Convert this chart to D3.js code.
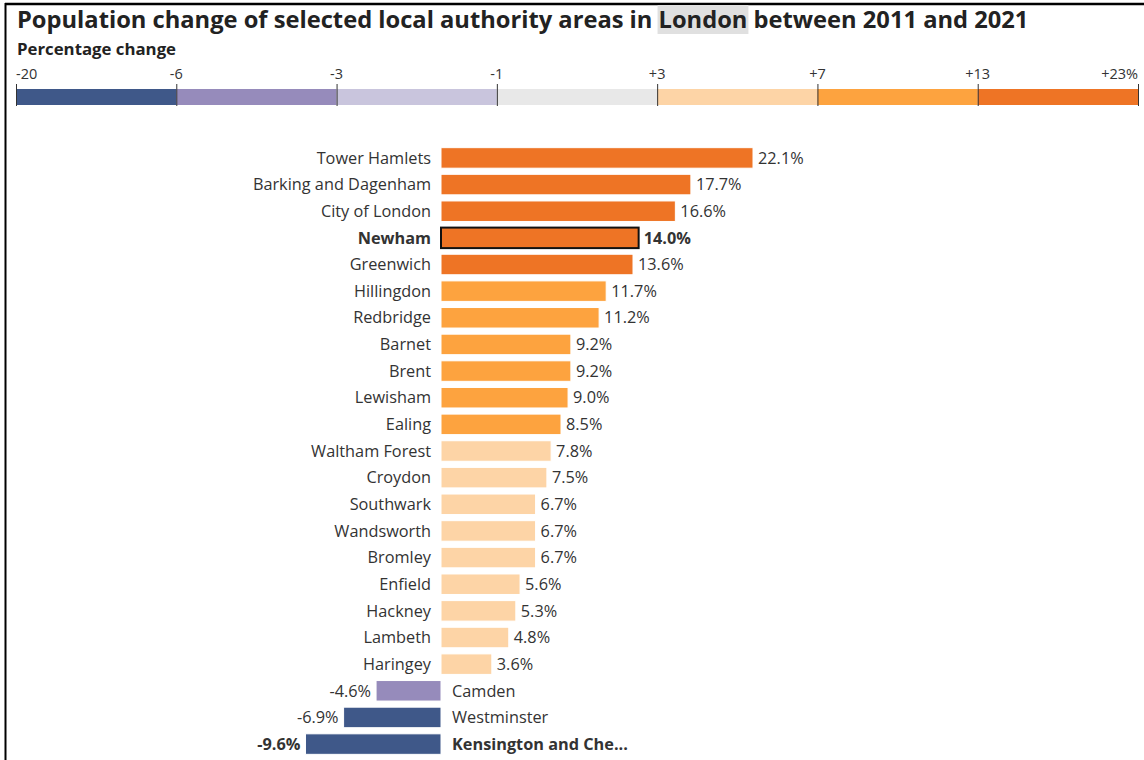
<!DOCTYPE html>
<html><head><meta charset="utf-8">
<script src="https://cdn.jsdelivr.net/npm/d3@7"></script>
<style>body{margin:0;background:#fff;}svg{display:block;font-family:"Open Sans",sans-serif;}</style>
</head><body><svg id="c" width="1144" height="760"></svg>
<script>
const areas = ["Tower Hamlets","Barking and Dagenham","City of London","Newham","Greenwich","Hillingdon","Redbridge","Barnet","Brent","Lewisham","Ealing","Waltham Forest","Croydon","Southwark","Wandsworth","Bromley","Enfield","Hackney","Lambeth","Haringey","Camden","Westminster","Kensington and Che..."];
const values = [22.1,17.7,16.6,14.0,13.6,11.7,11.2,9.2,9.2,9.0,8.5,7.8,7.5,6.7,6.7,6.7,5.6,5.3,4.8,3.6,-4.6,-6.9,-9.6];
const highlighted = ["Newham","Kensington and Che..."];
const breaks = [-20,-6,-3,-1,3,7,13,23];
const breakLabels = ["-20","-6","-3","-1","+3","+7","+13","+23%"];
const colorBreaks = [-6,-3,-1,3,8,13];
const colors = ["#3f5889","#968bbb","#c9c5dd","#e8e8e8","#fdd4a6","#fda33f","#ee7425"];

const svg = d3.select("#c");
// frame
svg.append("line").attr("x1",5).attr("x2",1144).attr("y1",4).attr("y2",4).attr("stroke","#000").attr("stroke-width",2.5);
svg.append("line").attr("x1",5.5).attr("x2",5.5).attr("y1",3).attr("y2",760).attr("stroke","#000").attr("stroke-width",2);

// title
const title = svg.append("text").attr("x",17).attr("y",28).attr("font-size",23.7).attr("font-weight",700).attr("fill","#222");
const tText = "Population change of selected local authority areas in London between 2011 and 2021";
title.text(tText);
const idx = tText.indexOf("London");
const node = title.node();
const sx = node.getStartPositionOfChar(idx).x;
const ex = node.getEndPositionOfChar(idx+5).x;
svg.insert("rect","text").attr("x",sx-1).attr("y",5).attr("width",ex-sx+2).attr("height",29).attr("fill","#e0e0e0");

svg.append("text").attr("x",17).attr("y",55).attr("font-size",16.8).attr("font-weight",700).attr("fill","#222").text("Percentage change");

// legend
const lx = d3.scalePoint().domain(d3.range(breaks.length)).range([16,1138]);
const lg = svg.append("g");
lg.selectAll("rect").data(colors).join("rect")
  .attr("x",(d,i)=>lx(i)).attr("width",(d,i)=>lx(i+1)-lx(i)).attr("y",89).attr("height",16).attr("fill",d=>d);
lg.selectAll("line").data(breaks).join("line")
  .attr("x1",(d,i)=>lx(i)+0.5).attr("x2",(d,i)=>lx(i)+0.5).attr("y1",84).attr("y2",106).attr("stroke","#333").attr("stroke-width",1);
lg.selectAll("text").data(breakLabels).join("text")
  .attr("x",(d,i)=>lx(i)).attr("y",79).attr("font-size",14.5).attr("fill","#333")
  .attr("text-anchor",(d,i)=>i===0?"start":i===breaks.length-1?"end":"middle").text(d=>d);

// bars
const x = d3.scaleLinear().domain([0,22.1]).range([441,753]);
const y = d3.scaleBand().domain(areas).range([145,757]).paddingInner(0.23).paddingOuter(0.1);
const color = d3.scaleThreshold().domain(colorBreaks).range(colors);
const g = svg.append("g");
const rows = g.selectAll("g").data(areas.map((a,i)=>({a,v:values[i],hl:highlighted.includes(a)}))).join("g")
  .attr("transform",d=>`translate(0,${y(d.a)})`);
rows.append("rect").attr("x",d=>x(Math.min(0,d.v))).attr("width",d=>Math.abs(x(d.v)-x(0))).attr("height",y.bandwidth())
  .attr("fill",d=>color(d.v)).attr("stroke",d=>d.a==="Newham"?"#111":"#fff").attr("stroke-width",d=>d.a==="Newham"?2:1);
rows.append("text").attr("x",d=>d.v>=0?x(0)-10:x(0)+11).attr("y",y.bandwidth()/2).attr("dy","0.35em")
  .attr("text-anchor",d=>d.v>=0?"end":"start").attr("font-size",16.3).attr("fill","#333")
  .attr("font-weight",d=>d.hl?700:400).text(d=>d.a);
rows.append("text").attr("x",d=>d.v>=0?x(d.v)+5:x(d.v)-5).attr("y",y.bandwidth()/2).attr("dy","0.35em")
  .attr("text-anchor",d=>d.v>=0?"start":"end").attr("font-size",16.3).attr("fill","#333")
  .attr("font-weight",d=>d.hl?700:400).text(d=>d.v.toFixed(1)+"%");
</script></body></html>
